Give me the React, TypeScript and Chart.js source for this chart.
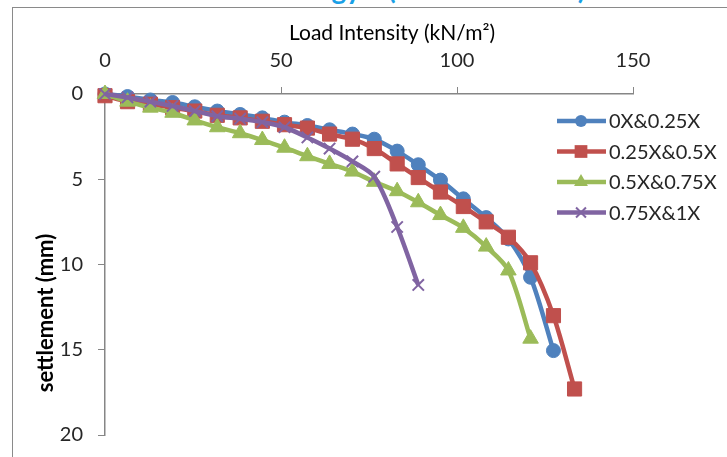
import React, { useEffect, useRef } from 'react';
import { Chart, registerables } from 'chart.js';

Chart.register(...registerables);

// ---- data ----
const seriesNames = ['0X&0.25X', '0.25X&0.5X', '0.5X&0.75X', '0.75X&1X'];
const xTickValues = [0, 50, 100, 150];
const yTickValues = [0, 5, 10, 15, 20];

const loadBlue = [0, 6.4, 12.9, 19.2, 25.5, 31.9, 38.4, 44.7, 51, 57.5, 63.8, 70.3, 76.5, 83, 89, 95.3, 101.8, 108.3, 114.6, 120.9, 127.4];
const settleBlue = [0, 0.15, 0.35, 0.5, 0.75, 1.0, 1.2, 1.4, 1.65, 1.85, 2.1, 2.35, 2.65, 3.35, 4.15, 5.05, 6.15, 7.25, 8.5, 10.75, 15.05];

const loadRed = [0, 6.4, 12.9, 19.2, 25.5, 31.9, 38.4, 44.7, 51, 57.5, 63.8, 70.3, 76.5, 83, 89, 95.3, 101.8, 108.3, 114.6, 120.9, 127.4, 133.4];
const settleRed = [0.1, 0.45, 0.6, 0.8, 1.0, 1.25, 1.4, 1.6, 1.8, 2.0, 2.35, 2.65, 3.2, 4.1, 4.9, 5.75, 6.6, 7.5, 8.4, 9.9, 13.0, 17.3];

const loadGreen = [0, 6.4, 12.9, 19.2, 25.5, 31.9, 38.4, 44.7, 51, 57.5, 63.8, 70.3, 76.5, 83, 89, 95.3, 101.8, 108.3, 114.6, 120.9];
const settleGreen = [0, 0.45, 0.8, 1.1, 1.55, 1.95, 2.3, 2.7, 3.15, 3.65, 4.1, 4.55, 5.15, 5.7, 6.35, 7.1, 7.85, 8.95, 10.35, 14.35];

const loadPurple = [0, 6.4, 12.9, 19.2, 25.5, 31.9, 38.4, 44.7, 51, 57.5, 63.8, 70.3, 76.5, 83, 89];
const settlePurple = [0, 0.2, 0.45, 0.7, 1.0, 1.3, 1.45, 1.65, 1.95, 2.55, 3.2, 3.95, 4.85, 7.8, 11.2];

const colors = ['#4F81BD', '#C0504D', '#9BBB59', '#8064A2'];
const pointStyles = ['circle', 'rect', 'triangle', 'crossRot'];
const pointRadii = [7, 10, 9, 8];

const FONT = 'Lato, "Open Sans", sans-serif';
const TEXT = '#262626';

function toPoints(xs: number[], ys: number[]) {
  return xs.map((x, i) => ({ x, y: ys[i] }));
}

function drawMarker(ctx: CanvasRenderingContext2D, style: string, x: number, y: number, r: number, color: string) {
  ctx.save();
  ctx.fillStyle = color;
  ctx.strokeStyle = color;
  ctx.beginPath();
  if (style === 'circle') {
    ctx.arc(x, y, r, 0, Math.PI * 2);
    ctx.fill();
  } else if (style === 'rect') {
    const s = Math.SQRT1_2 * r;
    ctx.rect(x - s, y - s, 2 * s, 2 * s);
    ctx.fill();
  } else if (style === 'triangle') {
    ctx.moveTo(x, y - r);
    ctx.lineTo(x + r * Math.sin(Math.PI / 3), y + r * 0.5);
    ctx.lineTo(x - r * Math.sin(Math.PI / 3), y + r * 0.5);
    ctx.closePath();
    ctx.fill();
  } else {
    const s = Math.SQRT1_2 * r;
    ctx.lineWidth = 2;
    ctx.moveTo(x - s, y - s);
    ctx.lineTo(x + s, y + s);
    ctx.moveTo(x - s, y + s);
    ctx.lineTo(x + s, y - s);
    ctx.stroke();
  }
  ctx.restore();
}

const decorPlugin = {
  id: 'decor',
  afterDraw(chart: any) {
    const ctx: CanvasRenderingContext2D = chart.ctx;
    ctx.save();
    // axis titles
    ctx.fillStyle = '#000';
    ctx.font = `21px ${FONT}`;
    ctx.textAlign = 'center';
    ctx.textBaseline = 'middle';
    ctx.fillText('Load Intensity (kN/m²)', 392, 33);
    ctx.translate(46, 313);
    ctx.rotate(-Math.PI / 2);
    ctx.font = `bold 22px ${FONT}`;
    ctx.fillText('settlement (mm)', 0, 0);
    ctx.restore();

    // legend
    ctx.save();
    chart.data.datasets.forEach((ds: any, i: number) => {
      const y = 121 + i * 30.5;
      ctx.strokeStyle = ds.borderColor;
      ctx.lineWidth = 4.5;
      ctx.beginPath();
      ctx.moveTo(557, y);
      ctx.lineTo(606, y);
      ctx.stroke();
      drawMarker(ctx, pointStyles[i], 581, y, pointRadii[i] - 1, ds.borderColor);
      ctx.fillStyle = TEXT;
      ctx.font = `20px ${FONT}`;
      ctx.textAlign = 'left';
      ctx.textBaseline = 'middle';
      ctx.fillText(ds.label, 609, y + 1);
    });
    ctx.restore();
  },
};

export default function App() {
  const canvasRef = useRef<HTMLCanvasElement | null>(null);

  useEffect(() => {
    document.body.style.margin = '0';
    const canvas = canvasRef.current;
    if (!canvas) return;
    const series = [
      [loadBlue, settleBlue],
      [loadRed, settleRed],
      [loadGreen, settleGreen],
      [loadPurple, settlePurple],
    ];
    const chart = new Chart(canvas, {
      type: 'line',
      data: {
        datasets: series.map(([xs, ys], i) => ({
          label: seriesNames[i],
          data: toPoints(xs, ys),
          borderColor: colors[i],
          backgroundColor: colors[i],
          borderWidth: 4.5,
          tension: 0.3,
          pointStyle: pointStyles[i] as any,
          pointRadius: pointRadii[i],
          pointBorderWidth: i === 3 ? 2 : 1,
          pointBorderColor: colors[i],
          pointBackgroundColor: colors[i],
          clip: false as any,
          order: 4 - i,
        })),
      },
      options: {
        responsive: false,
        animation: false,
        layout: { autoPadding: false, padding: { left: 0, top: 0, right: 94, bottom: 22 } },
        plugins: { legend: { display: false }, tooltip: { enabled: false }, title: { display: false } },
        scales: {
          x: {
            type: 'linear',
            position: 'top',
            min: 0,
            max: 150,
            afterBuildTicks: (s: any) => { s.ticks = xTickValues.map((v) => ({ value: v })); },
            ticks: { font: { family: FONT, size: 20 }, color: TEXT, padding: 14, maxRotation: 0 },
            grid: { drawOnChartArea: false, drawTicks: true, tickLength: 7, color: '#868686' },
            border: { color: '#868686', width: 1.5 },
            afterFit: (s: any) => { s.height = 94; s.paddingLeft = 0; s.paddingRight = 0; },
          },
          y: {
            type: 'linear',
            reverse: true,
            min: 0,
            max: 20,
            afterBuildTicks: (s: any) => { s.ticks = yTickValues.map((v) => ({ value: v })); },
            ticks: { font: { family: FONT, size: 20 }, color: TEXT, padding: 15 },
            grid: { drawOnChartArea: false, drawTicks: true, tickLength: 7, color: '#868686' },
            border: { color: '#868686', width: 1.5 },
            afterFit: (s: any) => { s.width = 105; s.paddingTop = 0; s.paddingBottom = 0; },
          },
        },
      },
      plugins: [decorPlugin],
    });
    return () => chart.destroy();
  }, []);

  return (
    <div style={{ position: 'relative', width: 727, height: 457, overflow: 'hidden', background: '#fff' }}>
      <div
        style={{
          position: 'absolute', top: -26, left: 0, width: 727, height: 40,
          font: `bold 28px ${FONT}`, lineHeight: '28px', color: '#1AA0E6', whiteSpace: 'nowrap',
        }}
      >
        <span style={{ position: 'absolute', right: 727 - 361 }}>Methodology</span>
        <span style={{ position: 'absolute', left: 388 }}>
          (<span style={{ display: 'inline-block', width: 182, textAlign: 'center' }}>Model Tests</span>)
        </span>
      </div>
      <div
        style={{
          position: 'absolute', left: 12, top: 7, width: 760, height: 500,
          borderLeft: '1px solid #8a8a8a', borderTop: '1px solid #8a8a8a',
        }}
      />
      <canvas ref={canvasRef} width={727} height={457} style={{ position: 'absolute', left: 0, top: 0, display: 'block' }} />
    </div>
  );
}
